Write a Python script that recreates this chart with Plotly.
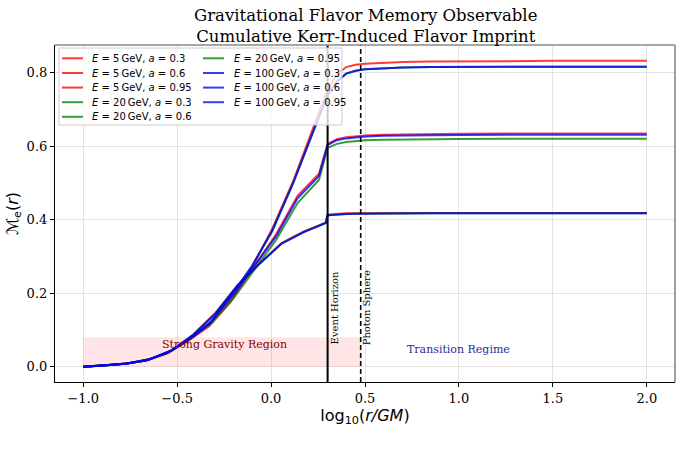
import plotly.graph_objects as go

# ---------------- data ----------------
# radial grids, log10(r/GM)
x_inner_a03 = [-1.0, -0.883, -0.765, -0.648, -0.530, -0.413, -0.296, -0.178, -0.061, 0.056, 0.174, 0.291]
x_inner_a06 = [-1.0, -0.886, -0.772, -0.658, -0.544, -0.430, -0.316, -0.201, -0.087, 0.027, 0.141, 0.255]
x_inner_a095 = [-1.0, -0.888, -0.776, -0.665, -0.553, -0.441, -0.329, -0.217, -0.106, 0.006, 0.118]
x_outer = [0.301, 0.35, 0.40, 0.45, 0.50, 0.60, 0.70, 0.85, 1.00, 1.25, 1.50, 1.75, 2.00]

# E = 5 GeV
m_E5_a03 = [0, 0.003, 0.009, 0.020, 0.044, 0.088, 0.146, 0.221, 0.281, 0.336, 0.368, 0.392,
            0.4135, 0.416, 0.417, 0.4175, 0.418, 0.418, 0.418, 0.418, 0.418, 0.418, 0.418, 0.418, 0.418]
m_E5_a06 = [0, 0.003, 0.008, 0.018, 0.039, 0.076, 0.120, 0.190, 0.275, 0.360, 0.465, 0.525,
            0.606, 0.619, 0.624, 0.627, 0.629, 0.631, 0.632, 0.633, 0.6335, 0.634, 0.634, 0.634, 0.634]
m_E5_a095 = [0, 0.003, 0.008, 0.017, 0.036, 0.070, 0.110, 0.175, 0.265, 0.375, 0.505,
             0.755, 0.795, 0.815, 0.821, 0.824, 0.827, 0.829, 0.830, 0.831, 0.831, 0.832, 0.832, 0.832]
# E = 20 GeV
m_E20_a03 = [0, 0.003, 0.009, 0.020, 0.044, 0.087, 0.145, 0.220, 0.280, 0.335, 0.366, 0.391,
             0.412, 0.4145, 0.4155, 0.416, 0.4163, 0.4165, 0.4167, 0.417, 0.417, 0.417, 0.417, 0.417, 0.417]
m_E20_a06 = [0, 0.003, 0.008, 0.018, 0.039, 0.076, 0.120, 0.185, 0.265, 0.345, 0.445, 0.508,
             0.595, 0.606, 0.611, 0.614, 0.616, 0.617, 0.618, 0.619, 0.6195, 0.620, 0.620, 0.620, 0.620]
m_E20_a095 = [0, 0.003, 0.008, 0.017, 0.037, 0.072, 0.115, 0.190, 0.270, 0.369, 0.500,
              0.740, 0.776, 0.797, 0.805, 0.809, 0.812, 0.814, 0.815, 0.8155, 0.816, 0.816, 0.816, 0.816]
# E = 100 GeV
m_E100_a03 = [0, 0.003, 0.009, 0.020, 0.044, 0.087, 0.145, 0.222, 0.280, 0.335, 0.366, 0.391,
              0.412, 0.4145, 0.4155, 0.416, 0.4163, 0.4165, 0.4167, 0.417, 0.417, 0.417, 0.417, 0.417, 0.417]
m_E100_a06 = [0, 0.003, 0.008, 0.018, 0.040, 0.078, 0.125, 0.195, 0.275, 0.355, 0.458, 0.519,
              0.603, 0.616, 0.621, 0.624, 0.626, 0.628, 0.629, 0.630, 0.6305, 0.631, 0.631, 0.631, 0.631]
m_E100_a095 = [0, 0.003, 0.008, 0.017, 0.037, 0.072, 0.115, 0.190, 0.270, 0.369, 0.500,
               0.740, 0.776, 0.797, 0.805, 0.809, 0.812, 0.814, 0.815, 0.8155, 0.816, 0.816, 0.816, 0.816]

energies = [5, 20, 100]
spins = [0.3, 0.6, 0.95]
x_inner = {0.3: x_inner_a03, 0.6: x_inner_a06, 0.95: x_inner_a095}
series = {
    (5, 0.3): m_E5_a03, (5, 0.6): m_E5_a06, (5, 0.95): m_E5_a095,
    (20, 0.3): m_E20_a03, (20, 0.6): m_E20_a06, (20, 0.95): m_E20_a095,
    (100, 0.3): m_E100_a03, (100, 0.6): m_E100_a06, (100, 0.95): m_E100_a095,
}
event_horizon = 0.301
photon_sphere = 0.477
x_ticks = [-1.0, -0.5, 0.0, 0.5, 1.0, 1.5, 2.0]
x_ticklabels = ["\u22121.0", "\u22120.5", "0.0", "0.5", "1.0", "1.5", "2.0"]
y_ticks = [0.0, 0.2, 0.4, 0.6, 0.8]
y_ticklabels = ["0.0", "0.2", "0.4", "0.6", "0.8"]

colors = {5: "rgba(255,0,0,0.78)", 20: "rgba(0,128,0,0.78)", 100: "rgba(0,0,255,0.78)"}

serif = "DejaVu Serif"
sans = "DejaVu Sans"

# plot-area geometry in pixels (for paper-coordinate conversions of the legend)
W, H = 682, 457
L, R, T, B = 55, 7, 45, 75
PW, PH = W - L - R, H - T - B


def px(xp):
    return (xp - L) / PW


def py(yp):
    return 1 - (yp - T) / PH


# ---------------- figure ----------------
fig = go.Figure()
names = []
for E in energies:
    for a in spins:
        xs = x_inner[a] + x_outer
        nm = f"<i>E</i> = {E}\u2009GeV, <i>a</i> = {a}"
        names.append((nm, colors[E]))
        fig.add_trace(go.Scatter(
            x=xs, y=series[(E, a)], mode="lines",
            line=dict(color=colors[E], width=2),
            name=nm, showlegend=False,
        ))

shapes = [
    dict(type="rect", xref="x", yref="y", x0=-1.0, x1=photon_sphere, y0=0, y1=0.08,
         fillcolor="rgba(255,0,0,0.1)", line=dict(width=0), layer="between"),
    dict(type="line", xref="x", yref="paper", x0=event_horizon, x1=event_horizon, y0=0, y1=1,
         line=dict(color="black", width=2), layer="above"),
    dict(type="line", xref="x", yref="paper", x0=photon_sphere, x1=photon_sphere, y0=0, y1=1,
         line=dict(color="black", width=1.6, dash="5px,3px"), layer="above"),
    # legend frame
    dict(type="rect", xref="paper", yref="paper", x0=px(59), x1=px(342), y0=py(125), y1=py(48),
         fillcolor="rgba(255,255,255,0.8)", line=dict(color="#cccccc", width=1), layer="above"),
    # top/right spines
    dict(type="line", xref="paper", yref="paper", x0=0, x1=1, y0=1, y1=1,
         line=dict(color="#888888", width=1.4), layer="above"),
    dict(type="line", xref="paper", yref="paper", x0=1, x1=1, y0=0, y1=1,
         line=dict(color="#888888", width=1.6), layer="above"),
]

annotations = [
    dict(x=0.5, y=py(4), xref="paper", yref="paper", xanchor="center", yanchor="top",
         text="Gravitational Flavor Memory Observable<br>Cumulative Kerr-Induced Flavor Imprint",
         showarrow=False, font=dict(family=serif, size=16.5, color="black")),
    dict(x=-0.25, y=0.06, xref="x", yref="y", text="Strong Gravity Region", showarrow=False,
         font=dict(family=serif, size=11, color="#8b0000")),
    dict(x=1.0, y=0.046, xref="x", yref="y", text="Transition Regime", showarrow=False,
         font=dict(family=serif, size=11, color="#2b2b9a")),
    dict(x=0.338, y=0.16, xref="x", yref="y", text="Event Horizon", showarrow=False, textangle=-90,
         font=dict(family=serif, size=10, color="black")),
    dict(x=0.508, y=0.16, xref="x", yref="y", text="Photon Sphere", showarrow=False, textangle=-90,
         font=dict(family=serif, size=10, color="black")),
]

# legend (two columns, column-major like the reference)
row_y = [58.3, 73, 87.6, 102.2, 116.8]
col_x = [(62, 83, 90), (203, 224, 232)]
for i, (nm, col) in enumerate(names):
    c = 0 if i < 5 else 1
    r = i if i < 5 else i - 5
    x0, x1, xt = col_x[c]
    yy = py(row_y[r])
    shapes.append(dict(type="line", xref="paper", yref="paper", x0=px(x0), x1=px(x1), y0=yy, y1=yy,
                       line=dict(color=col, width=2), layer="above"))
    annotations.append(dict(x=px(xt), y=yy, xref="paper", yref="paper", xanchor="left",
                            yanchor="middle", text=nm, showarrow=False,
                            font=dict(family=sans, size=10, color="black")))

fig.update_layout(
    width=W, height=H,
    margin=dict(l=L, r=R, t=T, b=B),
    paper_bgcolor="white", plot_bgcolor="white",
    showlegend=False,
    xaxis=dict(range=[-1.15, 2.15], tickvals=x_ticks, ticktext=x_ticklabels,
               showgrid=True, gridcolor="#e3e3e3", gridwidth=1, zeroline=False,
               showline=True, linecolor="black", linewidth=1.2,
               ticks="outside", ticklen=4, tickcolor="black",
               tickfont=dict(family=serif, size=13, color="black"),
               title=dict(text="log<sub>10</sub>(<i>r/GM</i>)", standoff=0,
                          font=dict(family=sans, size=16, color="black"))),
    yaxis=dict(range=[-0.0417, 0.875], tickvals=y_ticks, ticktext=y_ticklabels,
               showgrid=True, gridcolor="#e3e3e3", gridwidth=1, zeroline=False,
               showline=True, linecolor="black", linewidth=1.2,
               ticks="outside", ticklen=4, tickcolor="black",
               tickfont=dict(family=serif, size=13, color="black"),
               title=dict(text="\u2133<sub>e</sub>(<i>r</i>)", standoff=4,
                          font=dict(family=sans, size=16, color="black"))),
    shapes=shapes,
    annotations=annotations,
)

fig.write_html("out.html")
